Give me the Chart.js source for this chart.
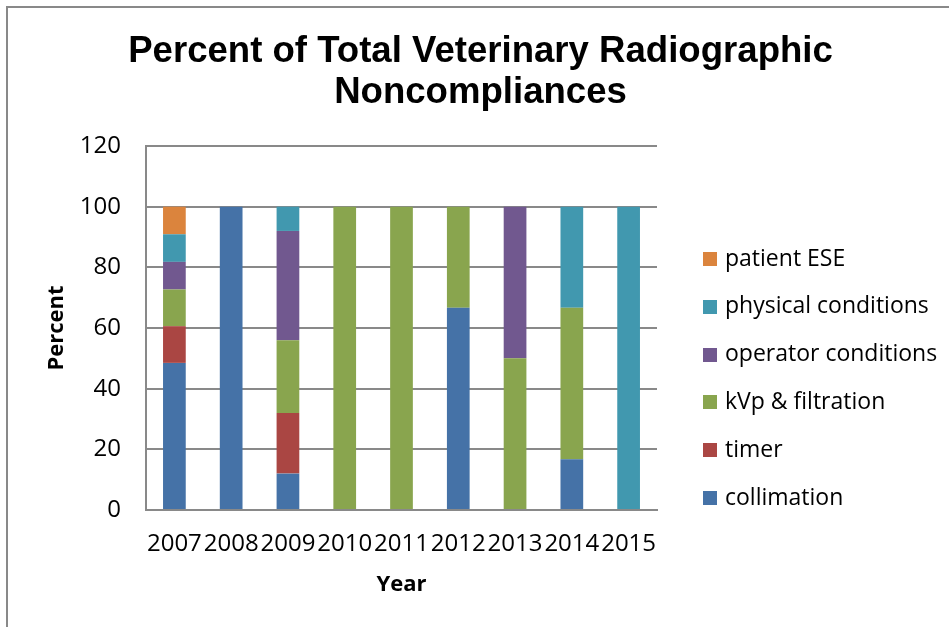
<!DOCTYPE html>
<html>
<head>
<meta charset="utf-8">
<script src="https://cdn.jsdelivr.net/npm/chart.js@4/dist/chart.umd.min.js"></script>
<style>
html, body { margin: 0; padding: 0; background: #ffffff; }
canvas { display: block; }
</style>
</head>
<body>
<canvas id="c" width="949" height="627"></canvas>
<script>
const years = ['2007', '2008', '2009', '2010', '2011', '2012', '2013', '2014', '2015'];
const collimation = [48.5, 100, 12, 0, 0, 66.7, 0, 16.7, 0];
const timer = [12.1, 0, 20, 0, 0, 0, 0, 0, 0];
const kvpFiltration = [12.1, 0, 24, 100, 100, 33.3, 50, 50, 0];
const operatorConditions = [9.1, 0, 36, 0, 0, 0, 50, 0, 0];
const physicalConditions = [9.1, 0, 8, 0, 0, 0, 0, 33.3, 100];
const patientESE = [9.1, 0, 0, 0, 0, 0, 0, 0, 0];
const yTicks = [0, 20, 40, 60, 80, 100, 120];
const titleLines = ['Percent of Total Veterinary Radiographic', 'Noncompliances'];

const seriesNames = ['collimation', 'timer', 'kVp & filtration', 'operator conditions', 'physical conditions', 'patient ESE'];
const seriesValues = [collimation, timer, kvpFiltration, operatorConditions, physicalConditions, patientESE];
const seriesColors = ['#4572A7', '#AA4643', '#89A54E', '#71588F', '#4198AF', '#DB843D'];

const decor = {
  id: 'decor',
  beforeDraw(chart) {
    const ctx = chart.ctx;
    ctx.save();
    ctx.strokeStyle = '#898989';
    ctx.lineWidth = 2;
    ctx.strokeRect(7, 7, 1200, 1200);
    ctx.restore();
  },
  afterDraw(chart) {
    const ctx = chart.ctx;
    ctx.save();
    // title
    ctx.fillStyle = '#000000';
    ctx.font = 'bold 36.6px "Liberation Sans", Arial, sans-serif';
    ctx.textAlign = 'center';
    ctx.textBaseline = 'alphabetic';
    ctx.fillText(titleLines[0], 480.5, 62);
    ctx.fillText(titleLines[1], 480.5, 103);
    // legend (reversed order)
    ctx.font = '23px "Open Sans", sans-serif';
    ctx.textAlign = 'left';
    ctx.textBaseline = 'middle';
    const ds = chart.data.datasets;
    for (let k = 0; k < ds.length; k++) {
      const d = ds[ds.length - 1 - k];
      const y = 259 + k * 47.8;
      ctx.fillStyle = d.backgroundColor;
      ctx.fillRect(703, Math.round(y - 7), 14, 14);
      ctx.fillStyle = '#000000';
      ctx.fillText(d.label, 725, y);
    }
    ctx.restore();
  }
};

new Chart(document.getElementById('c'), {
  type: 'bar',
  data: {
    labels: years,
    datasets: seriesNames.map((name, i) => ({
      label: name,
      data: seriesValues[i],
      backgroundColor: seriesColors[i],
      borderWidth: 0,
      barPercentage: 0.4,
      categoryPercentage: 1.0
    }))
  },
  options: {
    responsive: false,
    animation: false,
    devicePixelRatio: 1,
    layout: { padding: { left: 0, right: 292, top: 146, bottom: 0 } },
    plugins: {
      legend: { display: false },
      title: { display: false },
      tooltip: { enabled: false }
    },
    scales: {
      x: {
        stacked: true,
        grid: { display: false, drawTicks: false },
        border: { display: true, color: '#898989', width: 2 },
        ticks: {
          color: '#000000',
          font: { family: '"Open Sans", sans-serif', size: 24 },
          padding: 20,
          maxRotation: 0,
          autoSkip: false
        },
        title: {
          display: true,
          text: 'Year',
          color: '#000000',
          font: { family: '"Open Sans", sans-serif', size: 22, weight: 'bold' },
          padding: { top: 11, bottom: 29 }
        },
        afterFit(scale) { scale.height = 117; }
      },
      y: {
        stacked: true,
        min: 0,
        max: 120,
        afterBuildTicks(scale) { scale.ticks = yTicks.map(v => ({ value: v })); },
        grid: { color: '#898989', lineWidth: 2, drawTicks: false },
        border: { display: true, color: '#898989', width: 2 },
        ticks: {
          color: '#000000',
          font: { family: '"Open Sans", sans-serif', size: 24 },
          padding: 25
        },
        title: {
          display: true,
          text: 'Percent',
          color: '#000000',
          font: { family: '"Open Sans", sans-serif', size: 22, weight: 'bold' },
          padding: { top: 44, bottom: 9 }
        },
        afterFit(scale) { scale.width = 146; }
      }
    }
  },
  plugins: [decor]
});
</script>
</body>
</html>
